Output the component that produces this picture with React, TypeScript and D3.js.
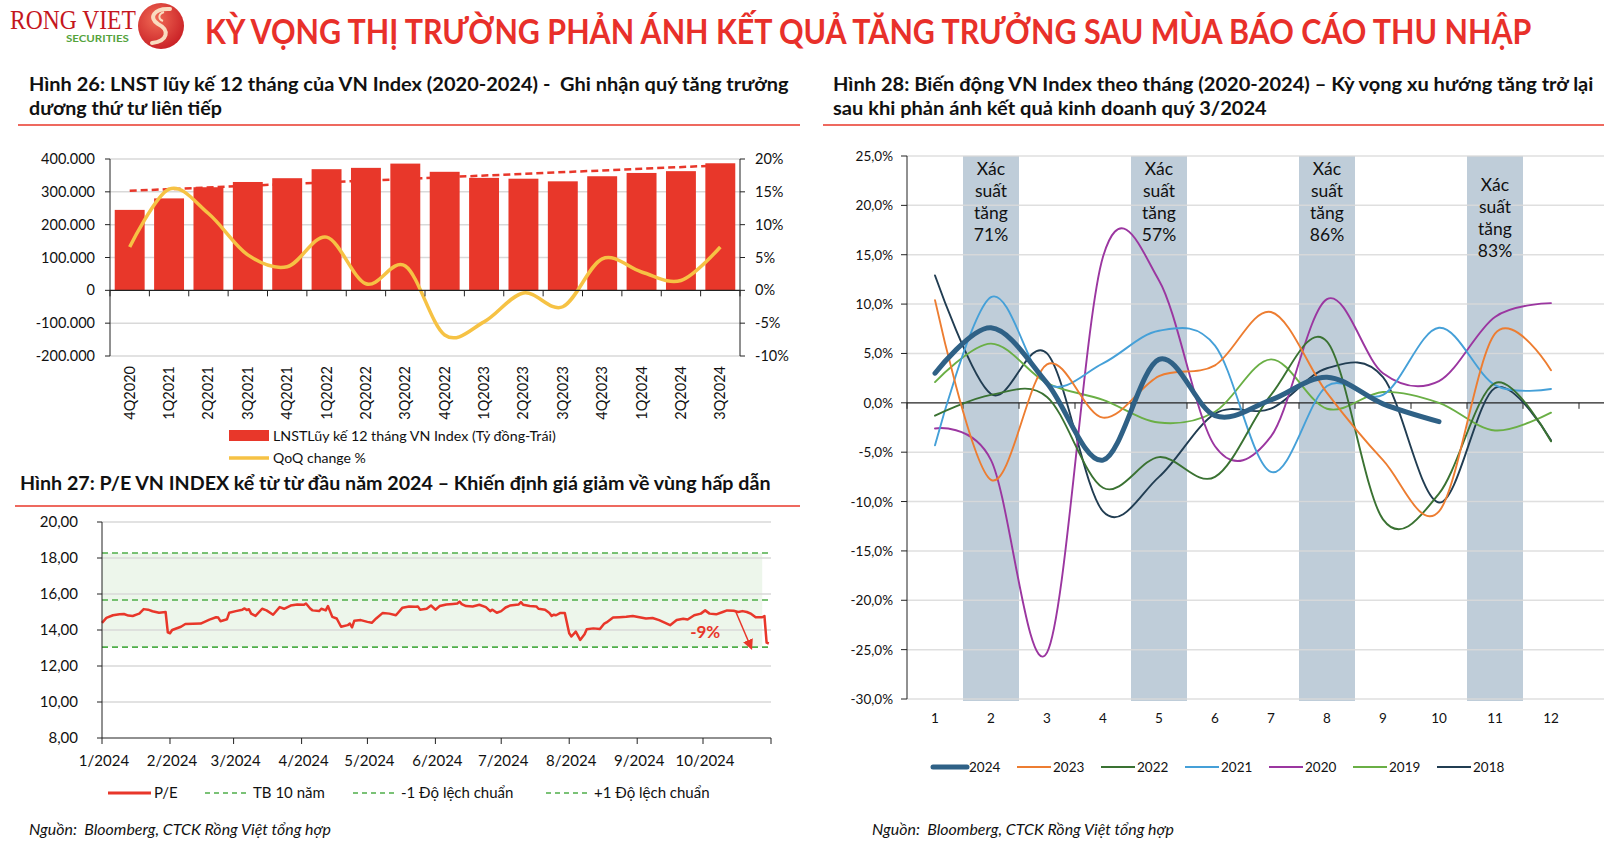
import { useEffect, useRef } from 'react';
import * as d3 from 'd3';

// ---- Hình 26: LNST lũy kế 12 tháng ----
const quarters = ['4Q2020', '1Q2021', '2Q2021', '3Q2021', '4Q2021', '1Q2022', '2Q2022', '3Q2022', '4Q2022', '1Q2023', '2Q2023', '3Q2023', '4Q2023', '1Q2024', '2Q2024', '3Q2024'];
const netProfit = [245000, 280000, 314000, 330000, 341500, 369000, 373000, 386000, 361000, 342500, 340000, 332000, 347500, 357500, 363000, 387000];
const qoqChange = [6.6, 15.4, 11.7, 5.4, 3.6, 8.1, 1.0, 3.7, -6.8, -4.8, -0.4, -2.5, 4.8, 2.8, 1.5, 6.6];

// ---- Hình 27: P/E VN Index 2024 ----
const peDates = [
  '01-01', '01-03', '01-06', '01-09', '01-11', '01-13', '01-15', '01-17', '01-18', '01-20', '01-22', '01-24', '01-27', '01-30', '01-31',
  '02-01', '02-02', '02-06', '02-08', '02-15', '02-19', '02-22', '02-23', '02-24', '02-27', '02-28',
  '03-02', '03-05', '03-06', '03-07', '03-08', '03-09', '03-11', '03-14', '03-16', '03-19', '03-22', '03-24', '03-27', '03-30',
  '04-02', '04-03', '04-05', '04-06', '04-09', '04-10', '04-12', '04-13', '04-15', '04-17', '04-19', '04-22', '04-23', '04-24', '04-25', '04-28',
  '05-01', '05-03', '05-05', '05-08', '05-11', '05-14', '05-17', '05-20', '05-23', '05-24', '05-25', '05-28', '05-30',
  '06-01', '06-03', '06-06', '06-09', '06-11', '06-12', '06-13', '06-15', '06-18', '06-21', '06-24', '06-26', '06-27', '06-29',
  '07-01', '07-03', '07-05', '07-09', '07-10', '07-11', '07-14', '07-17', '07-18', '07-21', '07-23', '07-24', '07-25', '07-26', '07-28', '07-30',
  '08-01', '08-02', '08-04', '08-06', '08-08', '08-09', '08-12', '08-15', '08-17', '08-18', '08-21', '08-24', '08-27', '08-30',
  '09-02', '09-05', '09-08', '09-11', '09-16', '09-19', '09-22', '09-24', '09-27', '09-30',
  '10-02', '10-04', '10-07', '10-10', '10-12', '10-15', '10-17', '10-19', '10-21', '10-23', '10-25', '10-28', '10-29', '10-30', '10-31',
];
const peValues = [
  14.40, 14.67, 14.82, 14.87, 14.89, 14.80, 14.78, 14.87, 14.91, 15.16, 15.13, 15.04, 14.96, 15.00, 13.87,
  13.82, 14.00, 14.18, 14.33, 14.36, 14.58, 14.71, 14.69, 14.49, 14.60, 14.96,
  15.05, 15.13, 15.20, 15.11, 15.15, 14.91, 14.78, 15.18, 15.09, 14.85, 15.27, 15.18, 15.36, 15.42,
  15.40, 15.47, 15.18, 15.09, 15.05, 15.18, 15.09, 15.33, 14.73, 14.64, 14.18, 14.27, 14.36, 14.15, 14.51, 14.55,
  14.45, 14.40, 14.64, 14.95, 14.91, 14.82, 15.24, 15.31, 15.29, 15.31, 15.13, 15.18, 15.36,
  15.13, 15.33, 15.42, 15.45, 15.47, 15.58, 15.44, 15.33, 15.31, 15.40, 15.27, 15.05, 15.13, 14.96,
  15.05, 15.25, 15.36, 15.42, 15.55, 15.40, 15.33, 15.31, 15.18, 15.13, 14.95, 14.78, 14.85, 14.82, 14.95, 14.95,
  13.82, 13.64, 13.91, 13.45, 13.76, 14.04, 14.09, 14.05, 14.36, 14.42, 14.69, 14.71, 14.73, 14.78,
  14.71, 14.64, 14.67, 14.55, 14.27, 14.55, 14.62, 14.58, 14.82, 14.91,
  15.09, 14.91, 14.87, 15.00, 15.09, 15.07, 15.00, 15.05, 15.00, 14.89, 14.71, 14.71, 14.78, 13.30, 13.25,
];
const peAvg = 15.67;
const peLow = 13.05;
const peHigh = 18.28;
const peTicks = ['20,00', '18,00', '16,00', '14,00', '12,00', '10,00', '8,00'];

// ---- Hình 28: Biến động VN Index theo tháng ----
const months = [1, 2, 3, 4, 5, 6, 7, 8, 9, 10, 11, 12];
const years = ['2024', '2023', '2022', '2021', '2020', '2019', '2018'];
const ret2024 = [3.0, 7.6, 2.0, -5.8, 4.4, -1.3, 0.3, 2.6, -0.1, -1.9];
const ret2023 = [10.4, -7.8, 3.9, -1.5, 2.7, 3.8, 9.2, 1.0, -5.8, -11.0, 7.0, 3.3];
const ret2022 = [-1.3, 0.8, 0.6, -8.6, -5.5, -7.5, 0.8, 6.2, -11.8, -9.2, 2.0, -3.9];
const ret2021 = [-4.3, 10.7, 1.9, 4.0, 7.3, 5.8, -7.0, 1.7, 0.8, 7.6, 1.8, 1.4];
const ret2020 = [-2.6, -5.8, -25.3, 14.8, 12.4, -4.4, -3.4, 10.5, 3.0, 2.2, 8.7, 10.1];
const ret2019 = [2.1, 6.0, 2.0, 0.3, -2.0, -0.9, 4.4, -0.6, 1.1, 0.0, -2.8, -1.0];
const ret2018 = [12.9, 0.9, 5.0, -11.0, -7.5, -1.1, -0.6, 3.5, 2.6, -10.1, 1.5, -3.8];
const yearColors = ['#2f6186', '#ed7d31', '#3a7232', '#45a0d8', '#9b36a0', '#6aaf45', '#213d52'];
const bandMonths = [2, 5, 8, 11];
const bandProbs = ['71%', '57%', '86%', '83%'];

const SANS = "Lato, 'Open Sans', 'Liberation Sans', sans-serif";
const RED = '#e8372a';
const GRID = '#d9d9d9';
const GREEN = '#4fae4a';

const vn = d3.formatLocale({ decimal: ',', thousands: '.', grouping: [3], currency: ['', ''], minus: '-' });

type Sel = d3.Selection<any, unknown, null, undefined>;

function label(g: Sel, x: number, y: number, s: string, o: any = {}) {
  const t = g
    .append('text')
    .attr('x', x)
    .attr('y', y)
    .attr('font-family', o.family ?? SANS)
    .attr('font-size', o.size ?? 14)
    .attr('fill', o.fill ?? '#111')
    .attr('text-anchor', o.anchor ?? 'start')
    .style('white-space', 'pre')
    .text(s);
  if (o.weight) t.attr('font-weight', o.weight);
  if (o.italic) t.attr('font-style', 'italic');
  if (o.len) {
    // co giãn ngang cho khớp bề rộng của bản gốc
    const natural = (t.node() as SVGTextElement).getComputedTextLength() || o.len;
    t.attr('x', 0).attr('y', 0).attr('transform', `translate(${x},${y}) scale(${o.len / natural},1)`);
  }
  return t;
}

function hline(g: Sel, x1: number, x2: number, y: number, stroke: string, w = 1, dash?: string) {
  const l = g.append('line').attr('x1', x1).attr('x2', x2).attr('y1', y).attr('y2', y).attr('stroke', stroke).attr('stroke-width', w);
  if (dash) l.attr('stroke-dasharray', dash);
  return l;
}

function vline(g: Sel, x: number, y1: number, y2: number, stroke: string, w = 1) {
  return g.append('line').attr('x1', x).attr('x2', x).attr('y1', y1).attr('y2', y2).attr('stroke', stroke).attr('stroke-width', w);
}

function drawHeader(svg: Sel) {
  const g = svg.append('g');
  label(g, 10, 29, 'RONG VIET', { family: "'Liberation Serif', 'DejaVu Serif', serif", size: 27, fill: '#c5161d', len: 126 });
  label(g, 66, 42, 'SECURITIES', { size: 10, weight: 700, fill: '#55a33c', len: 63 });

  const defs = svg.append('defs');
  const grad = defs.append('radialGradient').attr('id', 'logoGrad').attr('cx', '40%').attr('cy', '35%').attr('r', '70%');
  grad.append('stop').attr('offset', '0%').attr('stop-color', '#f06a55');
  grad.append('stop').attr('offset', '100%').attr('stop-color', '#c81e24');
  g.append('circle').attr('cx', 161).attr('cy', 26).attr('r', 23).attr('fill', 'url(#logoGrad)');
  g.append('path')
    .attr('d', 'M170 9 C154 8 148 18 158 24 C170 30 168 41 152 43')
    .attr('fill', 'none')
    .attr('stroke', '#f9dcc0')
    .attr('stroke-width', 4)
    .attr('stroke-linecap', 'round');
  g.append('path')
    .attr('d', 'M164 12 C158 14 158 19 163 21')
    .attr('fill', 'none')
    .attr('stroke', '#f9dcc0')
    .attr('stroke-width', 2);

  label(g, 205, 44, 'KỲ VỌNG THỊ TRƯỜNG PHẢN ÁNH KẾT QUẢ TĂNG TRƯỞNG SAU MÙA BÁO CÁO THU NHẬP', {
    size: 34,
    weight: 700,
    fill: '#e8302a',
    len: 1327,
  });

  // tiêu đề các hình
  label(g, 29, 91, 'Hình 26: LNST lũy kế 12 tháng của VN Index (2020-2024) -  Ghi nhận quý tăng trưởng', { size: 18, weight: 700, len: 760 });
  label(g, 29, 115, 'dương thứ tư liên tiếp', { size: 18, weight: 700, len: 193 });
  hline(g, 18, 800, 125, RED, 1.5);

  label(g, 833, 91, 'Hình 28: Biến động VN Index theo tháng (2020-2024) – Kỳ vọng xu hướng tăng trở lại', { size: 18, weight: 700, len: 761 });
  label(g, 833, 115, 'sau khi phản ánh kết quả kinh doanh quý 3/2024', { size: 18, weight: 700, len: 434 });
  hline(g, 823, 1604, 125, RED, 1.5);

  label(g, 20, 490, 'Hình 27: P/E VN INDEX kể từ từ đầu năm 2024 – Khiến định giá giảm về vùng hấp dẫn', { size: 18, weight: 700, len: 751 });
  hline(g, 15, 800, 506, RED, 1.5);

  label(g, 29, 835, 'Nguồn:  Bloomberg, CTCK Rồng Việt tổng hợp', { size: 15, italic: true, len: 302 });
  label(g, 872, 835, 'Nguồn:  Bloomberg, CTCK Rồng Việt tổng hợp', { size: 15, italic: true, len: 302 });
}

function drawProfit(svg: Sel) {
  const g = svg.append('g');
  const x = d3.scaleBand<string>().domain(quarters).range([110, 740]).paddingInner(0.24).paddingOuter(0.12);
  const yL = d3.scaleLinear().domain([-200000, 400000]).range([356, 159]);
  const yR = d3.scaleLinear().domain([-10, 20]).range([356, 159]);
  const cx = (q: string) => (x(q) ?? 0) + x.bandwidth() / 2;
  const [x0, x1] = x.range();
  const n = quarters.length;

  yL.ticks(6).forEach((v) => {
    if (v !== 0) hline(g, x0, x1, yL(v), GRID, 1.5);
  });

  // đường xu hướng tuyến tính
  const idx = d3.range(n);
  const mx = d3.mean(idx) as number;
  const my = d3.mean(netProfit) as number;
  const slope = d3.sum(idx, (i) => (i - mx) * (netProfit[i] - my)) / d3.sum(idx, (i) => (i - mx) ** 2);
  g.append('line')
    .attr('x1', cx(quarters[0]))
    .attr('y1', yL(my - slope * mx))
    .attr('x2', cx(quarters[n - 1]))
    .attr('y2', yL(my + slope * (n - 1 - mx)))
    .attr('stroke', RED)
    .attr('stroke-width', 2.5)
    .attr('stroke-dasharray', '7,4');

  g.selectAll('rect.bar')
    .data(netProfit)
    .join('rect')
    .attr('class', 'bar')
    .attr('x', (_, i) => x(quarters[i]) ?? 0)
    .attr('y', (d) => yL(d))
    .attr('width', x.bandwidth())
    .attr('height', (d) => yL(0) - yL(d))
    .attr('fill', RED);

  const qLine = d3
    .line<number>()
    .x((_, i) => cx(quarters[i]))
    .y((d) => yR(d))
    .curve(d3.curveCatmullRom.alpha(0));
  g.append('path').attr('d', qLine(qoqChange)).attr('fill', 'none').attr('stroke', '#f6c244').attr('stroke-width', 3.5);

  // trục
  vline(g, x0, yL(400000), yL(-200000), '#222');
  vline(g, x1, yR(20), yR(-10), '#222');
  hline(g, x0, x1, yL(0), '#222', 1.2);
  const fmt = vn.format(',');
  yL.ticks(6).forEach((v) => {
    hline(g, x0 - 5, x0, yL(v), '#222');
    label(g, 95, yL(v) + 5, fmt(v), { anchor: 'end', size: 14.5 });
  });
  yR.ticks(6).forEach((v) => {
    hline(g, x1, x1 + 5, yR(v), '#222');
    label(g, 755, yR(v) + 5, `${v}%`, { size: 14.5 });
  });
  d3.range(n + 1).forEach((i) => vline(g, x0 + i * x.step(), yL(0), yL(0) + 6, '#222'));
  quarters.forEach((q) => {
    g.append('text')
      .attr('transform', `translate(${cx(q) + 5},366) rotate(-90)`)
      .attr('text-anchor', 'end')
      .attr('font-family', SANS)
      .attr('font-size', 14.5)
      .attr('fill', '#111')
      .text(q);
  });

  // chú thích
  g.append('rect').attr('x', 229).attr('y', 430).attr('width', 40).attr('height', 11).attr('fill', RED);
  label(g, 273, 441, 'LNSTLũy kế 12 tháng VN Index (Tỷ đồng-Trái)', { size: 14, len: 283 });
  hline(g, 229, 269, 458, '#f6c244', 3.5);
  label(g, 273, 463, 'QoQ change %', { size: 14, len: 93 });
}

function drawPe(svg: Sel) {
  const g = svg.append('g');
  const parse = d3.timeParse('%Y-%m-%d');
  const dates = peDates.map((d) => parse(`2024-${d}`) as Date);
  const xT = d3.scaleTime().domain([new Date(2024, 0, 1), new Date(2024, 10, 1)]).range([102, 771]);
  const yP = d3.scaleLinear().domain([8, 20]).range([738, 522]);

  g.append('rect')
    .attr('x', xT(new Date(2024, 0, 1)))
    .attr('y', yP(peHigh))
    .attr('width', xT(new Date(2024, 9, 28)) - xT(new Date(2024, 0, 1)))
    .attr('height', yP(peLow) - yP(peHigh))
    .attr('fill', '#edf6eb');

  yP.ticks(6).forEach((v) => {
    if (v !== 8) hline(g, 102, 771, yP(v), GRID, 1.5);
  });
  [peHigh, peAvg, peLow].forEach((v) => hline(g, 102, 771, yP(v), GREEN, 1.6, '6,4'));

  const peLine = d3
    .line<number>()
    .x((_, i) => xT(dates[i]))
    .y((d) => yP(d));
  g.append('path')
    .attr('d', peLine(peValues))
    .attr('fill', 'none')
    .attr('stroke', RED)
    .attr('stroke-width', 2.5)
    .attr('stroke-linejoin', 'round');

  // trục
  vline(g, 102, yP(20), yP(8), '#222');
  hline(g, 102, 771, yP(8), '#222', 1.2);
  yP.ticks(6)
    .slice()
    .reverse()
    .forEach((v, i) => {
      hline(g, 97, 102, yP(v), '#222');
      label(g, 78, yP(v) + 5, peTicks[i], { anchor: 'end', size: 15 });
    });
  const fmtM = d3.timeFormat('%-m/%Y');
  xT.ticks(d3.timeMonth.every(1) as any).forEach((d) => {
    vline(g, xT(d), yP(8), yP(8) + 6, '#222');
    if (d < new Date(2024, 10, 1)) label(g, xT(d) + 2, 766, fmtM(d), { anchor: 'middle', size: 15 });
  });

  // chú thích -9%
  svg
    .select('defs')
    .append('marker')
    .attr('id', 'arrowRed')
    .attr('viewBox', '0 0 10 10')
    .attr('refX', 8)
    .attr('refY', 5)
    .attr('markerWidth', 7)
    .attr('markerHeight', 7)
    .attr('orient', 'auto')
    .append('path')
    .attr('d', 'M0,0 L10,5 L0,10 z')
    .attr('fill', RED);
  g.append('line')
    .attr('x1', xT(new Date(2024, 9, 16)))
    .attr('y1', yP(15.0))
    .attr('x2', xT(new Date(2024, 9, 23)))
    .attr('y2', yP(13.0))
    .attr('stroke', RED)
    .attr('stroke-width', 1.5)
    .attr('marker-end', 'url(#arrowRed)');
  label(g, xT(new Date(2024, 9, 2)), yP(13.55), '-9%', { anchor: 'middle', size: 17, weight: 700, fill: RED });

  // legend
  const ly = 793;
  hline(g, 108, 151, ly, RED, 3);
  label(g, 154, ly + 5, 'P/E', { size: 15 });
  const items = ['TB 10 năm', '-1 Độ lệch chuẩn', '+1 Độ lệch chuẩn'];
  const lx = [205, 353, 546];
  items.forEach((s, i) => {
    hline(g, lx[i], lx[i] + 43, ly, GREEN, 1.6, '5,4');
    label(g, lx[i] + 48, ly + 5, s, { size: 15 });
  });
}

function drawMonthly(svg: Sel) {
  const g = svg.append('g');
  const xM = d3.scaleLinear().domain([0.5, 12.5]).range([907, 1579]);
  const yM = d3.scaleLinear().domain([-30, 25]).range([699, 156]);
  const right = 1604;
  const series = [ret2024, ret2023, ret2022, ret2021, ret2020, ret2019, ret2018];

  bandMonths.forEach((m) => {
    g.append('rect')
      .attr('x', xM(m - 0.5))
      .attr('y', yM(25))
      .attr('width', xM(m + 0.5) - xM(m - 0.5))
      .attr('height', yM(-30) - yM(25) + 2)
      .attr('fill', '#bfcdd9');
  });

  yM.ticks(11).forEach((v) => {
    if (v !== 0) hline(g, 907, right, yM(v), GRID, 1.5).attr('stroke-opacity', 0.85);
  });

  bandMonths.forEach((m, i) => {
    const top = i === 3 ? 191 : 175;
    ['Xác', 'suất', 'tăng', bandProbs[i]].forEach((s, k) => {
      label(g, xM(m), top + k * 22, s, { anchor: 'middle', size: 17.5, fill: '#111' });
    });
  });

  // trục
  vline(g, 907, yM(25), yM(-30), '#222');
  hline(g, 907, right, yM(0), '#222', 1.3);
  const fmt = vn.format(',.1f');
  yM.ticks(11).forEach((v) => {
    hline(g, 901, 907, yM(v), '#222');
    label(g, 893, yM(v) + 5, `${fmt(v)}%`, { anchor: 'end', size: 13.5 });
  });
  d3.range(0, 13).forEach((k) => vline(g, xM(k + 0.5), yM(0), yM(0) + 6, '#222'));
  months.forEach((m) => label(g, xM(m), 723, String(m), { anchor: 'middle', size: 13.5 }));

  const line = d3
    .line<number>()
    .x((_, i) => xM(months[i]))
    .y((d) => yM(d))
    .curve(d3.curveCatmullRom.alpha(0));
  for (let s = series.length - 1; s >= 0; s--) {
    g.append('path')
      .attr('d', line(series[s]))
      .attr('fill', 'none')
      .attr('stroke', yearColors[s])
      .attr('stroke-width', s === 0 ? 5 : 1.9)
      .attr('stroke-linecap', 'round');
  }

  // legend
  years.forEach((y, i) => {
    const lx = 933 + i * 84;
    hline(g, lx, lx + 34, 767, yearColors[i], i === 0 ? 5 : 2).attr('stroke-linecap', i === 0 ? 'round' : 'butt');
    label(g, lx + 36, 772, y, { size: 13.5 });
  });
}

export default function App() {
  const svgRef = useRef<SVGSVGElement>(null);

  useEffect(() => {
    if (!svgRef.current) return;
    const svg = d3.select(svgRef.current) as Sel;
    svg.selectAll('*').remove();
    svg.append('rect').attr('width', 1608).attr('height', 848).attr('fill', '#fff');
    drawHeader(svg);
    drawProfit(svg);
    drawPe(svg);
    drawMonthly(svg);
  }, []);

  return (
    <svg
      ref={svgRef}
      width={1608}
      height={848}
      style={{ position: 'absolute', left: 0, top: 0, display: 'block', background: '#fff' }}
    />
  );
}
